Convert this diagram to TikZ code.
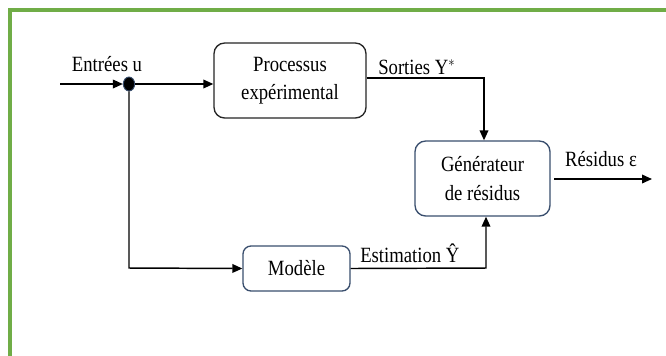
\documentclass[tikz,border=0pt]{standalone}
\usepackage{fontspec}
\usepackage{graphicx}
\setmainfont{Liberation Serif}
\usetikzlibrary{arrows.meta,shapes.geometric}
\definecolor{frameg}{HTML}{70AD47}
\definecolor{boxblue}{HTML}{3A4F6E}
\newcommand\diafs{\fontsize{16.3pt}{21.2pt}\selectfont}
\newcommand\sq[1]{\scalebox{0.86}[1]{#1}}
\begin{document}
\begin{tikzpicture}[x=0.75pt,y=-0.75pt,
  blk/.style={draw, line width=1pt, rounded corners=8pt, align=center, inner sep=0pt, font=\diafs},
  lbl/.style={inner sep=0pt, font=\diafs},
  conn/.style={line width=1.1pt},
  arr/.style={conn, -{Triangle[length=7.5pt,width=6.5pt]}}]
\useasboundingbox (0,0) rectangle (666,355);
\clip (0,0) rectangle (666,355);
\fill[white] (0,0) rectangle (666,355);
\draw[frameg, line width=2.5pt] (10,10) rectangle (690,380);

\node[blk, draw=black!85, minimum width=114pt, minimum height=56.25pt] (proc) at (290,80.5) {\sq{Processus}\\\sq{expérimental}};
\node[blk, draw=boxblue, minimum width=101.25pt, minimum height=56.25pt] (gen) at (482.5,178.5) {\sq{Générateur}\\\sq{de résidus}};
\node[blk, draw=boxblue, rounded corners=6pt, minimum width=80.25pt, minimum height=33.75pt] (mod) at (296.5,268.5) {\sq{Modèle}};

\node[ellipse, fill=black, draw=boxblue, line width=0.7pt, minimum width=8.5pt, minimum height=10.5pt, inner sep=0pt] (dot) at (129,84) {};
\coordinate (in) at (60,84);
\coordinate (s1) at (484,78);
\coordinate (m1) at (486,268);
\coordinate (d1) at (129,268);
\coordinate (r0) at (554,179);
\coordinate (r1) at (652,179);

\draw[arr] (in) -- (dot.west);
\draw[arr] (dot.east) -- (dot -| proc.west);
\draw[arr] (proc.east |- s1) -- (s1) -- (s1 |- gen.north);
\draw[arr] (dot.south) -- (d1) -- (mod.west);
\draw[arr] (mod.east) -- (m1) -- (m1 |- gen.south);
\draw[arr] (r0) -- (r1);

\node[lbl] (lin) at (107,64) {\sq{Entrées u}};
\node[lbl, anchor=west] (lout) at (378,67) {\sq{Sorties Y$^{*}$}};
\node[lbl] (lres) at (601,159) {\sq{Résidus ε}};
\node[lbl, anchor=west] (lest) at (360,253) {\sq{Estimation Ŷ}};
\end{tikzpicture}
\end{document}
